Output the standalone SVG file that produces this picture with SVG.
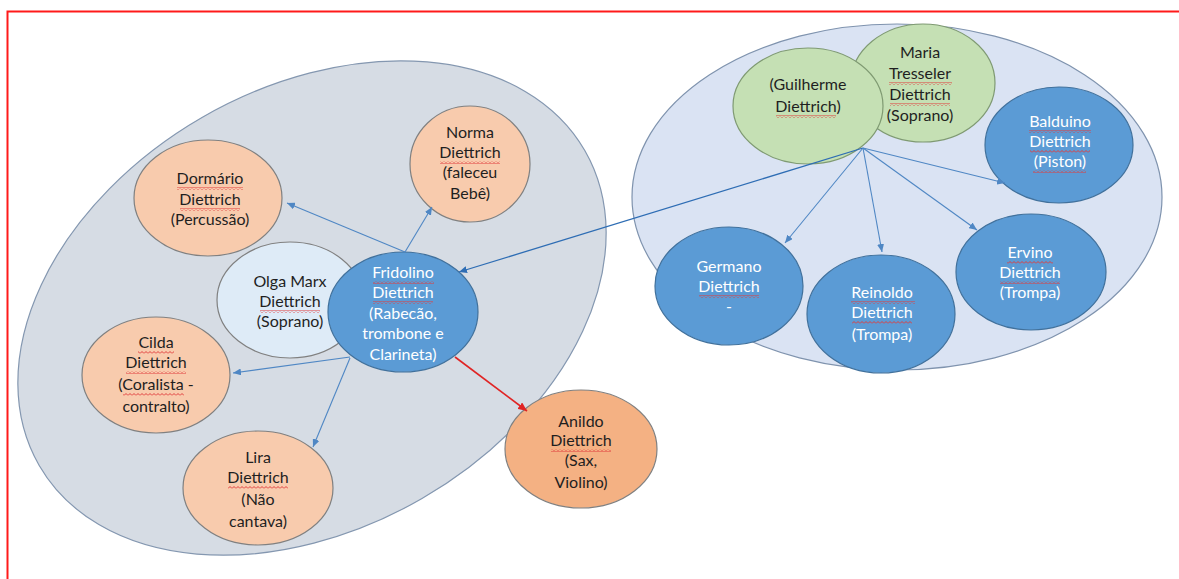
<svg xmlns="http://www.w3.org/2000/svg" width="1179" height="579" viewBox="0 0 1179 579">
<defs>
<style>
.t{font-family:Lato,"Liberation Sans",sans-serif;font-size:16px;text-anchor:middle}
.dk{fill:#1f1f1f}
.wt{fill:#ffffff}
.orange{fill:#F8CBAD;stroke:#808080;stroke-width:1.2}
.anildo{fill:#F4B183;stroke:#808080;stroke-width:1.2}
.blue{fill:#5B9BD5;stroke:#41719C;stroke-width:1.2}
.light{fill:#DEEBF7;stroke:#808080;stroke-width:1.2}
.green{fill:#C5E0B4;stroke:#7F9A72;stroke-width:1.2}
.conn{fill:none;stroke:#4F87C4;stroke-width:1.1}
.sq{fill:url(#sq)}
</style>
<pattern id="sq" width="4" height="3" patternUnits="userSpaceOnUse">
<path d="M0 2.5 L2 0.5 L4 2.5" fill="none" stroke="#E03C3C" stroke-width="1"/>
</pattern>
<marker id="ab" viewBox="0 0 8 7" refX="8" refY="3.5" markerWidth="8" markerHeight="7" markerUnits="userSpaceOnUse" orient="auto">
<path d="M0,0 L8,3.5 L0,7 z" fill="#4F87C4"/>
</marker>
<marker id="ad" viewBox="0 0 8 7" refX="8" refY="3.5" markerWidth="8" markerHeight="7" markerUnits="userSpaceOnUse" orient="auto">
<path d="M0,0 L8,3.5 L0,7 z" fill="#2E6DB4"/>
</marker>
<marker id="ar" viewBox="0 0 8 7" refX="8" refY="3.5" markerWidth="9" markerHeight="8" markerUnits="userSpaceOnUse" orient="auto">
<path d="M0,0 L8,3.5 L0,7 z" fill="#E02424"/>
</marker>
</defs>
<rect x="0" y="0" width="1179" height="579" fill="#ffffff"/>
<rect x="7.5" y="11.5" width="1180" height="580" fill="none" stroke="#FF1A1A" stroke-width="2"/>

<g id="families">
<ellipse id="family-fridolino" cx="312" cy="308" rx="315" ry="220" transform="rotate(-30 312 308)" fill="#D6DCE4" stroke="#8497B0" stroke-width="1.2"/>
<ellipse id="family-guilherme" cx="897" cy="197" rx="265" ry="173" fill="#DAE3F3" stroke="#7F93AE" stroke-width="1.2"/>
</g>

<g id="n-dormario">
<ellipse class="orange" cx="208" cy="198" rx="74" ry="58"/>
<text class="t dk" x="210" y="184">Dormário</text>
<text class="t dk" x="210" y="205">Diettrich</text>
<text class="t dk" x="210" y="225">(Percussão)</text>
<rect class="sq" x="177" y="187" width="66" height="3"/>
<rect class="sq" x="180" y="208" width="60" height="3"/>
</g>

<g id="n-norma">
<ellipse class="orange" cx="470" cy="164" rx="60" ry="58"/>
<text class="t dk" x="470" y="138">Norma</text>
<text class="t dk" x="470" y="158">Diettrich</text>
<text class="t dk" x="470" y="178">(faleceu</text>
<text class="t dk" x="470" y="199">Bebê)</text>
<rect class="sq" x="440" y="161" width="60" height="3"/>
</g>

<g id="n-olga">
<ellipse class="light" cx="290" cy="300" rx="73" ry="58"/>
<text class="t dk" x="290" y="287">Olga Marx</text>
<text class="t dk" x="290" y="307">Diettrich</text>
<text class="t dk" x="290" y="327">(Soprano)</text>
<rect class="sq" x="260" y="310" width="60" height="3"/>
</g>

<g id="n-fridolino">
<ellipse class="blue" cx="403" cy="312" rx="75" ry="60"/>
<text class="t wt" x="403" y="278">Fridolino</text>
<text class="t wt" x="403" y="298">Diettrich</text>
<text class="t wt" x="403" y="319">(Rabecão,</text>
<text class="t wt" x="403" y="339">trombone e</text>
<text class="t wt" x="403" y="360">Clarineta)</text>
<rect class="sq" x="373" y="281" width="61" height="3"/>
<rect class="sq" x="373" y="301" width="60" height="3"/>
</g>

<g id="n-cilda">
<ellipse class="orange" cx="156" cy="375" rx="74" ry="58"/>
<text class="t dk" x="156" y="348">Cilda</text>
<text class="t dk" x="156" y="368">Diettrich</text>
<text class="t dk" x="156" y="390">(Coralista -</text>
<text class="t dk" x="156" y="412">contralto)</text>
<rect class="sq" x="138" y="351" width="36" height="3"/>
<rect class="sq" x="126" y="371" width="60" height="3"/>
<rect class="sq" x="123" y="393" width="61" height="3"/>
</g>

<g id="n-lira">
<ellipse class="orange" cx="258" cy="488" rx="75" ry="57"/>
<text class="t dk" x="258" y="463">Lira</text>
<text class="t dk" x="258" y="483">Diettrich</text>
<text class="t dk" x="258" y="505">(Não</text>
<text class="t dk" x="258" y="527">cantava)</text>
<rect class="sq" x="228" y="486" width="60" height="3"/>
</g>

<g id="n-anildo">
<ellipse class="anildo" cx="581" cy="449" rx="76" ry="59"/>
<text class="t dk" x="581" y="427">Anildo</text>
<text class="t dk" x="581" y="446">Diettrich</text>
<text class="t dk" x="581" y="466">(Sax,</text>
<text class="t dk" x="581" y="488">Violino)</text>
<rect class="sq" x="551" y="449" width="60" height="3"/>
</g>

<g id="n-maria">
<ellipse class="green" cx="923" cy="83" rx="72" ry="59"/>
<text class="t dk" x="920" y="58">Maria</text>
<text class="t dk" x="920" y="79">Tresseler</text>
<text class="t dk" x="920" y="100">Diettrich</text>
<text class="t dk" x="920" y="121">(Soprano)</text>
<rect class="sq" x="889" y="82" width="63" height="3"/>
<rect class="sq" x="890" y="103" width="60" height="3"/>
</g>

<g id="n-guilherme">
<ellipse class="green" cx="808" cy="106" rx="75" ry="58"/>
<text class="t dk" x="808" y="90">(Guilherme</text>
<text class="t dk" x="808" y="112">Diettrich)</text>
<rect class="sq" x="776" y="115" width="60" height="3"/>
</g>

<g id="n-balduino">
<ellipse class="blue" cx="1059" cy="145" rx="74" ry="58"/>
<text class="t wt" x="1060" y="127">Balduino</text>
<text class="t wt" x="1060" y="147">Diettrich</text>
<text class="t wt" x="1060" y="167">(Piston)</text>
<rect class="sq" x="1029" y="130" width="62" height="3"/>
<rect class="sq" x="1030" y="150" width="60" height="3"/>
<rect class="sq" x="1033" y="170" width="53" height="3"/>
</g>

<g id="n-ervino">
<ellipse class="blue" cx="1031" cy="272" rx="75" ry="58"/>
<text class="t wt" x="1030" y="258">Ervino</text>
<text class="t wt" x="1030" y="278">Diettrich</text>
<text class="t wt" x="1030" y="298">(Trompa)</text>
<rect class="sq" x="1007" y="261" width="46" height="3"/>
<rect class="sq" x="1000" y="281" width="60" height="3"/>
</g>

<g id="n-germano">
<ellipse class="blue" cx="729" cy="286" rx="74" ry="59"/>
<text class="t wt" x="729" y="272">Germano</text>
<text class="t wt" x="729" y="292">Diettrich</text>
<text class="t wt" x="729" y="312">-</text>
<rect class="sq" x="699" y="295" width="60" height="3"/>
</g>

<g id="n-reinoldo">
<ellipse class="blue" cx="881" cy="314" rx="74" ry="59"/>
<text class="t wt" x="882" y="298">Reinoldo</text>
<text class="t wt" x="882" y="318">Diettrich</text>
<text class="t wt" x="882" y="340">(Trompa)</text>
<rect class="sq" x="851" y="301" width="64" height="3"/>
<rect class="sq" x="852" y="321" width="60" height="3"/>
</g>

<g id="connectors">
<line class="conn" x1="405" y1="252" x2="287" y2="203" marker-end="url(#ab)"/>
<line class="conn" x1="405" y1="252" x2="432" y2="207" marker-end="url(#ab)"/>
<line class="conn" x1="350" y1="357" x2="233" y2="373" marker-end="url(#ab)"/>
<line class="conn" x1="350" y1="358" x2="313" y2="447" marker-end="url(#ab)"/>
<line x1="455" y1="357" x2="527" y2="411" fill="none" stroke="#E02424" stroke-width="1.6" marker-end="url(#ar)"/>
<line x1="863" y1="148" x2="459" y2="272" fill="none" stroke="#2E6DB4" stroke-width="1.3" marker-end="url(#ad)"/>
<line class="conn" x1="863" y1="148" x2="785" y2="243" marker-end="url(#ab)"/>
<line class="conn" x1="863" y1="148" x2="882" y2="252" marker-end="url(#ab)"/>
<line class="conn" x1="863" y1="148" x2="1005" y2="183" marker-end="url(#ab)"/>
<line class="conn" x1="863" y1="148" x2="977" y2="230" marker-end="url(#ab)"/>
</g>
</svg>
